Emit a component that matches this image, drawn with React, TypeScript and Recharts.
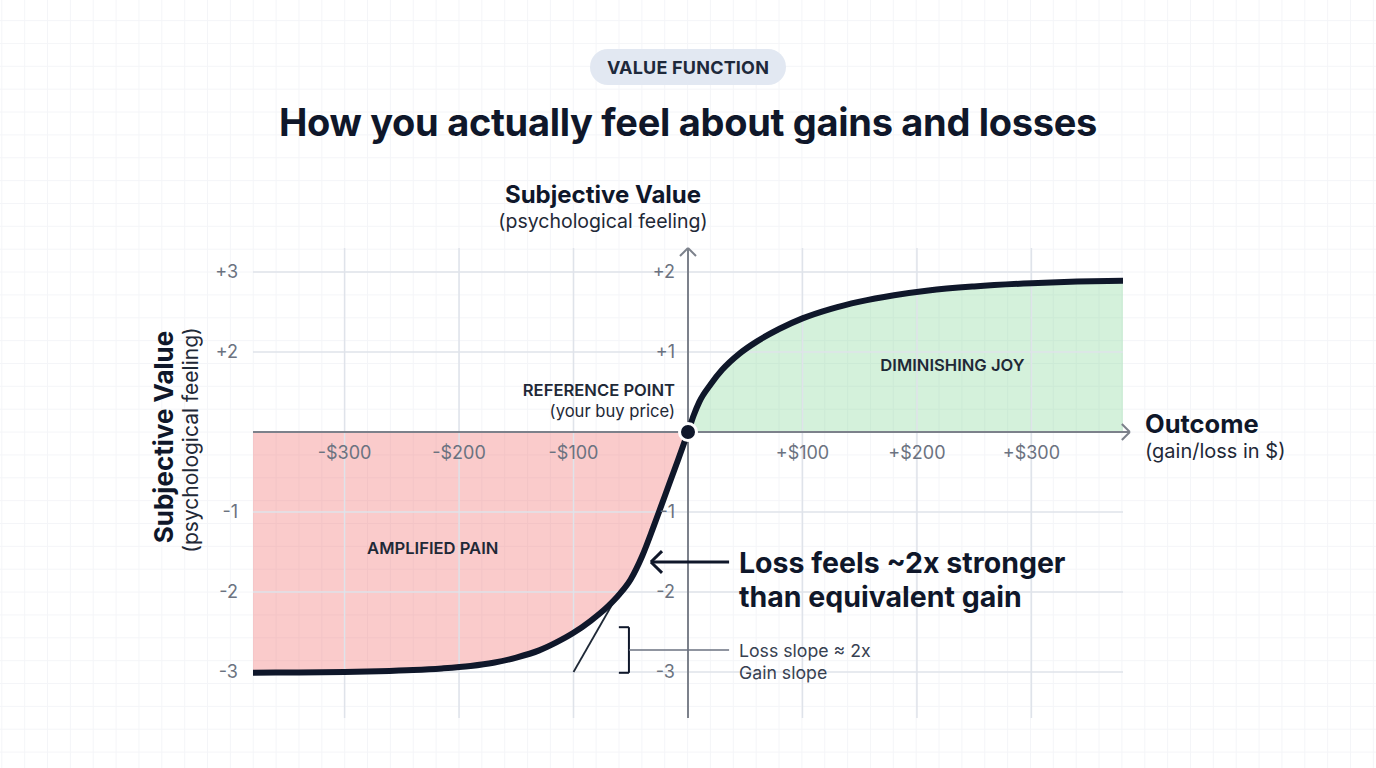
import {
  ComposedChart,
  Area,
  Line,
  XAxis,
  YAxis,
  ReferenceLine,
  ReferenceDot,
} from "recharts";

// outcome in $ and the felt value
const outcome = [
  -380, -340, -300, -270, -240, -215, -190, -170, -150, -130, -115, -100, -85, -70, -60, -50, -40,
  -30, -20, -10, 0, 5, 10, 20, 30, 45, 60, 80, 100, 125, 150, 180, 210, 250, 300, 340, 380,
];
const feeling = [
  -3.01, -3.005, -3.0, -2.99, -2.975, -2.955, -2.925, -2.885, -2.82, -2.73, -2.63, -2.51, -2.36,
  -2.18, -2.03, -1.84, -1.55, -1.18, -0.79, -0.4, 0, 0.21, 0.38, 0.6, 0.78, 0.98, 1.13, 1.29, 1.42,
  1.54, 1.63, 1.71, 1.77, 1.82, 1.86, 1.88, 1.89,
];

const xTicks = [-300, -200, -100, 100, 200, 300];
const xTickLabels = ["-$300", "-$200", "-$100", "+$100", "+$200", "+$300"];
const yTicks = [2, 1, -1, -2, -3];
const outerYLabels = ["+3", "+2", "-1", "-2", "-3"];
const innerYLabels = ["+2", "+1", "-1", "-2", "-3"];

const data = outcome.map((x, i) => ({
  x,
  v: feeling[i],
  gain: x >= 0 ? feeling[i] : null,
  loss: x <= 0 ? feeling[i] : null,
}));

const FONT = "Inter, 'Noto Sans', sans-serif";
const INK = "#0f172a";
const AXIS = "#7c818b";
const GRID = "#dfe3ea";
const TICK = "#6b7280";

const abs = (left: number, top: number, extra: React.CSSProperties = {}): React.CSSProperties => ({
  position: "absolute",
  left,
  top,
  whiteSpace: "nowrap",
  ...extra,
});

const App = () => {
  return (
    <div
      style={{
        position: "absolute",
        left: 0,
        top: 0,
        width: 1376,
        height: 768,
        overflow: "hidden",
        fontFamily: FONT,
        color: INK,
        backgroundColor: "#ffffff",
        backgroundImage:
          "linear-gradient(to right, #f4f5f8 1px, transparent 1px), linear-gradient(to bottom, #f4f5f8 1px, transparent 1px)",
        backgroundSize: "22.86px 22.86px",
        backgroundPosition: "1.3px 20.1px",
      }}
    >
      <div style={{ position: "absolute", left: 0, top: 0 }}>
        <ComposedChart
          width={1376}
          height={768}
          data={data}
          margin={{ top: 248, right: 253, bottom: 50, left: 253 }}
        >
          <XAxis type="number" dataKey="x" domain={[-380, 380]} hide allowDataOverflow />
          <YAxis type="number" domain={[-3.575, 2.3]} hide allowDataOverflow />

          {xTicks.map((t) => (
            <ReferenceLine key={`vx${t}`} x={t} stroke={GRID} strokeWidth={1.5} />
          ))}
          {yTicks.map((t) => (
            <ReferenceLine key={`hy${t}`} y={t} stroke={GRID} strokeWidth={1.5} />
          ))}

          <Area
            dataKey="loss"
            type="monotone"
            baseValue={0}
            stroke="none"
            fill="#f26b6b"
            fillOpacity={0.35}
            isAnimationActive={false}
          />
          <Area
            dataKey="gain"
            type="monotone"
            baseValue={0}
            stroke="none"
            fill="#70d087"
            fillOpacity={0.3}
            isAnimationActive={false}
          />

          {/* axes with open arrowheads */}
          <ReferenceLine segment={[{ x: -380, y: 0 }, { x: 386, y: 0 }]} stroke={AXIS} strokeWidth={2} ifOverflow="visible" />
          <ReferenceLine segment={[{ x: 379, y: 0.1 }, { x: 386, y: 0 }]} stroke={AXIS} strokeWidth={2} ifOverflow="visible" />
          <ReferenceLine segment={[{ x: 379, y: -0.1 }, { x: 386, y: 0 }]} stroke={AXIS} strokeWidth={2} ifOverflow="visible" />
          <ReferenceLine segment={[{ x: 0, y: -3.575 }, { x: 0, y: 2.3 }]} stroke={AXIS} strokeWidth={2} ifOverflow="visible" />
          <ReferenceLine segment={[{ x: -7, y: 2.2 }, { x: 0, y: 2.3 }]} stroke={AXIS} strokeWidth={2} ifOverflow="visible" />
          <ReferenceLine segment={[{ x: 7, y: 2.2 }, { x: 0, y: 2.3 }]} stroke={AXIS} strokeWidth={2} ifOverflow="visible" />

          {xTicks.map((t, i) => (
            <ReferenceDot
              key={`xl${t}`}
              x={t}
              y={0}
              r={0}
              fill="none"
              stroke="none"
              label={{ value: xTickLabels[i], position: "bottom", offset: 14, fill: TICK, fontSize: 18 }}
            />
          ))}
          {yTicks.map((t, i) => (
            <ReferenceDot
              key={`yo${t}`}
              x={-380}
              y={t}
              r={0}
              fill="none"
              stroke="none"
              ifOverflow="visible"
              label={{ value: outerYLabels[i], position: "left", offset: 15, fill: TICK, fontSize: 18 }}
            />
          ))}
          {yTicks.map((t, i) => (
            <ReferenceDot
              key={`yi${t}`}
              x={0}
              y={t}
              r={0}
              fill="none"
              stroke="none"
              label={{ value: innerYLabels[i], position: "left", offset: 13, fill: TICK, fontSize: 18 }}
            />
          ))}

          <ReferenceDot x={231} y={0.84} r={0} fill="none" stroke="none"
            label={{ value: "DIMINISHING JOY", position: "center", fill: "#1f2937", fontSize: 16.6, fontWeight: 600 }} />
          <ReferenceDot x={-223} y={-1.45} r={0} fill="none" stroke="none"
            label={{ value: "AMPLIFIED PAIN", position: "center", fill: "#1f2937", fontSize: 16.6, fontWeight: 600 }} />
          <ReferenceDot x={0} y={0.525} r={0} fill="none" stroke="none"
            label={{ value: "REFERENCE POINT", position: "left", offset: 13, fill: "#1f2937", fontSize: 16.6, fontWeight: 600 }} />
          <ReferenceDot x={0} y={0.26} r={0} fill="none" stroke="none"
            label={{ value: "(your buy price)", position: "left", offset: 13, fill: "#1f2937", fontSize: 16.6 }} />

          {/* tangent line and slope bracket */}
          <ReferenceLine segment={[{ x: -100, y: -3.0 }, { x: -60, y: -2.0 }]} stroke="#1f2937" strokeWidth={1.8} />
          <ReferenceLine segment={[{ x: -60.4, y: -2.44 }, { x: -51.6, y: -2.44 }]} stroke={INK} strokeWidth={2} />
          <ReferenceLine segment={[{ x: -51.6, y: -2.44 }, { x: -51.6, y: -3.01 }]} stroke={INK} strokeWidth={2} />
          <ReferenceLine segment={[{ x: -60.4, y: -3.01 }, { x: -51.6, y: -3.01 }]} stroke={INK} strokeWidth={2} />
          <ReferenceLine segment={[{ x: -51.6, y: -2.725 }, { x: 35.9, y: -2.725 }]} stroke="#6b7280" strokeWidth={1.5} />

          {/* arrow pointing at the loss curve */}
          <ReferenceLine segment={[{ x: -32.4, y: -1.625 }, { x: 35.9, y: -1.625 }]} stroke={INK} strokeWidth={3} />
          <ReferenceLine segment={[{ x: -32.4, y: -1.625 }, { x: -22.7, y: -1.49 }]} stroke={INK} strokeWidth={3} />
          <ReferenceLine segment={[{ x: -32.4, y: -1.625 }, { x: -22.7, y: -1.76 }]} stroke={INK} strokeWidth={3} />

          <Line
            dataKey="v"
            type="monotone"
            stroke={INK}
            strokeWidth={6}
            strokeLinecap="round"
            dot={false}
            activeDot={false}
            isAnimationActive={false}
          />

          <ReferenceDot x={0} y={0} r={8.5} fill={INK} stroke="#ffffff" strokeWidth={3} />
        </ComposedChart>
      </div>

      <div
        style={abs(590, 49, {
          width: 196,
          height: 36,
          borderRadius: 18,
          background: "#e2e8f2",
          display: "flex",
          alignItems: "center",
          justifyContent: "center",
          fontSize: 18,
          fontWeight: 700,
          color: "#1e293b",
          letterSpacing: 0.2,
        })}
      >
        VALUE FUNCTION
      </div>
      <div
        style={abs(0, 122, {
          width: 1376,
          textAlign: "center",
          transform: "translateY(-50%)",
          fontSize: 38,
          fontWeight: 700,
          letterSpacing: -0.3,
        })}
      >
        How you actually feel about gains and losses
      </div>

      <div style={abs(403, 194, { width: 400, textAlign: "center", transform: "translateY(-50%)", fontSize: 24, fontWeight: 700 })}>
        Subjective Value
      </div>
      <div style={abs(403, 221, { width: 400, textAlign: "center", transform: "translateY(-50%)", fontSize: 19.5, color: "#1f2937" })}>
        (psychological feeling)
      </div>

      <div
        style={abs(163, 437, {
          transform: "translate(-50%, -50%) rotate(-90deg)",
          fontSize: 26,
          fontWeight: 700,
        })}
      >
        Subjective Value
      </div>
      <div
        style={abs(190, 440, {
          transform: "translate(-50%, -50%) rotate(-90deg)",
          fontSize: 21,
          color: "#1f2937",
        })}
      >
        (psychological feeling)
      </div>

      <div style={abs(1145, 423, { transform: "translateY(-50%)", fontSize: 25.5, fontWeight: 700 })}>Outcome</div>
      <div style={abs(1145, 451, { transform: "translateY(-50%)", fontSize: 20, color: "#1f2937" })}>
        (gain/loss in $)
      </div>

      <div style={abs(739, 562, { transform: "translateY(-50%)", fontSize: 28.5, fontWeight: 700 })}>
        Loss feels ~2x stronger
      </div>
      <div style={abs(739, 596, { transform: "translateY(-50%)", fontSize: 28.5, fontWeight: 700 })}>
        than equivalent gain
      </div>
      <div style={abs(739, 650, { transform: "translateY(-50%)", fontSize: 17.7, color: "#374151" })}>
        Loss slope ≈ 2x
      </div>
      <div style={abs(739, 672, { transform: "translateY(-50%)", fontSize: 17.7, color: "#374151" })}>
        Gain slope
      </div>
    </div>
  );
};

export default App;
